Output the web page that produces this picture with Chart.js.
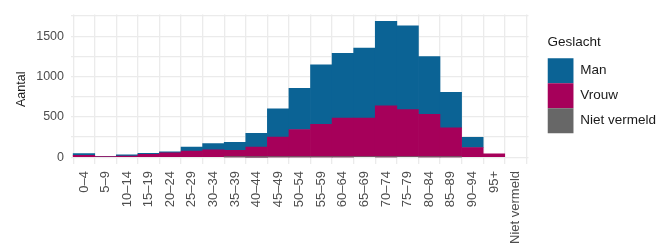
<!DOCTYPE html>
<html>
<head>
<meta charset="utf-8">
<script src="https://cdn.jsdelivr.net/npm/chart.js@4/dist/chart.umd.min.js"></script>
<style>
html,body{margin:0;padding:0;background:#fff;}
#wrap{width:660px;height:247px;position:relative;}
</style>
</head>
<body>
<div id="wrap"><canvas id="c" width="660" height="247"></canvas></div>
<script>
const categories = ['0–4','5–9','10–14','15–19','20–24','25–29','30–34','35–39','40–44','45–49','50–54','55–59','60–64','65–69','70–74','75–79','80–84','85–89','90–94','95+','Niet vermeld'];
const man    = [20, 2, 17, 10, 13, 50, 76, 100, 172, 349, 509, 740, 803, 868, 1049, 1038, 716, 442, 125, 0, 0];
const vrouw  = [24, 6, 14, 37, 55, 75, 92, 80, 123, 247, 340, 404, 482, 479, 632, 584, 528, 361, 121, 43, 0];
const nietVermeld = [0, 0, 0, 0, 0, 0, 0, 4, 2, 3, 4, 3, 3, 6, 5, 6, 4, 3, 0, 0, 0];
const yTicks = [0, 250, 500, 750, 1000, 1250, 1500, 1750];
const yLabelTicks = [0, 500, 1000, 1500];

const toXY = arr => arr.map((v, i) => ({x: i, y: v === 0 ? null : v}));
const FONT = "'Liberation Sans', Arial, sans-serif";

new Chart(document.getElementById('c'), {
  type: 'bar',
  data: {
    datasets: [
      {label: 'Niet vermeld', data: toXY(nietVermeld), backgroundColor: '#676767'},
      {label: 'Vrouw', data: toXY(vrouw), backgroundColor: '#a6005a'},
      {label: 'Man', data: toXY(man), backgroundColor: '#0b6395'}
    ]
  },
  options: {
    responsive: false,
    animation: false,
    layout: {padding: {left: 8, right: -6, top: 6, bottom: 0}},
    datasets: {bar: {barPercentage: 1, categoryPercentage: 1, borderWidth: 0}},
    plugins: {
      tooltip: {enabled: false},
      legend: {
        position: 'right',
        align: 'start',
        reverse: true,
        maxWidth: 140,
        title: {display: true, text: 'Geslacht', position: 'start', color: '#1a1a1a',
                font: {family: FONT, size: 13.5}, padding: {top: 30, bottom: 6}},
        labels: {boxWidth: 26, boxHeight: 25, padding: 0, color: '#1a1a1a',
                 font: {family: FONT, size: 13.5}}
      }
    },
    scales: {
      x: {
        type: 'linear',
        min: -0.6, max: 20.6,
        stacked: true,
        offset: false,
        border: {display: false},
        grid: {color: '#ebebeb', lineWidth: 1.3, drawTicks: false},
        ticks: {
          stepSize: 1, includeBounds: false, autoSkip: false,
          minRotation: 90, maxRotation: 90, padding: 7,
          color: '#4d4d4d', font: {family: FONT, size: 13},
          callback: v => (Number.isInteger(v) && categories[v] !== undefined) ? categories[v] : ''
        },
        afterBuildTicks: s => { s.ticks = categories.map((c, i) => ({value: i})); },
        afterFit: s => { s.height = 83; }
      },
      y: {
        stacked: true,
        min: -84, max: 1770,
        border: {display: false},
        grid: {color: '#ebebeb', lineWidth: 1.3, drawTicks: false},
        ticks: {
          padding: 7, color: '#4d4d4d', font: {family: FONT, size: 12.5},
          callback: v => yLabelTicks.includes(v) ? String(v) : ''
        },
        afterBuildTicks: s => { s.ticks = yTicks.map(v => ({value: v})); },
        title: {display: true, text: 'Aantal', color: '#1a1a1a', font: {family: FONT, size: 12.5}, padding: {top: 6, bottom: 0}},
        afterFit: s => { s.width = 63; }
      },
      gap: {
        type: 'linear', position: 'right', display: true,
        grid: {display: false}, border: {display: false}, ticks: {display: false},
        afterFit: s => { s.width = 19; }
      }
    }
  }
});
</script>
</body>
</html>
